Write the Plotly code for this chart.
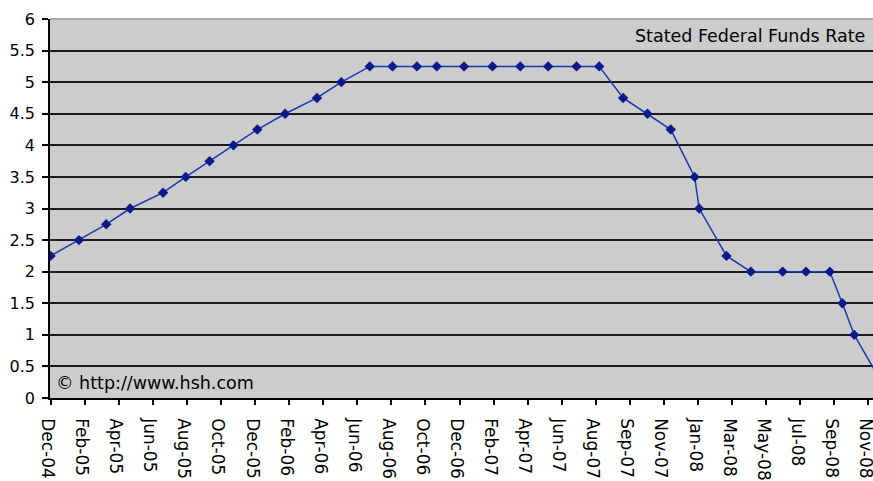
import plotly.graph_objects as go
import pandas as pd

# FOMC decision dates and stated federal funds target rate (%)
dates = [
    "2004-12-14", "2005-02-02", "2005-03-22", "2005-05-03", "2005-06-30",
    "2005-08-09", "2005-09-20", "2005-11-01", "2005-12-13", "2006-01-31",
    "2006-03-28", "2006-05-10", "2006-06-29", "2006-08-08", "2006-09-20",
    "2006-10-25", "2006-12-12", "2007-01-31", "2007-03-21", "2007-05-09",
    "2007-06-28", "2007-08-07", "2007-09-18", "2007-10-31", "2007-12-11",
    "2008-01-22", "2008-01-30", "2008-03-18", "2008-04-30", "2008-06-25",
    "2008-08-05", "2008-09-16", "2008-10-08", "2008-10-29", "2008-12-16",
]
rates = [
    2.25, 2.5, 2.75, 3.0, 3.25,
    3.5, 3.75, 4.0, 4.25, 4.5,
    4.75, 5.0, 5.25, 5.25, 5.25,
    5.25, 5.25, 5.25, 5.25, 5.25,
    5.25, 5.25, 4.75, 4.5, 4.25,
    3.5, 3.0, 2.25, 2.0, 2.0,
    2.0, 2.0, 1.5, 1.0, 0.25,
]

tick_labels = [
    "Dec-04", "Feb-05", "Apr-05", "Jun-05", "Aug-05", "Oct-05", "Dec-05",
    "Feb-06", "Apr-06", "Jun-06", "Aug-06", "Oct-06", "Dec-06", "Feb-07",
    "Apr-07", "Jun-07", "Aug-07", "Sep-07", "Nov-07", "Jan-08", "Mar-08",
    "May-08", "Jul-08", "Sep-08", "Nov-08",
]
# Excel date axis: major unit of 60 days starting at the first data date
tick_dates = pd.date_range("2004-12-14", periods=len(tick_labels), freq="60D")

y_ticks = [0, 0.5, 1, 1.5, 2, 2.5, 3, 3.5, 4, 4.5, 5, 5.5, 6]
y_tick_text = ["0", "0.5", "1", "1.5", "2", "2.5", "3", "3.5", "4", "4.5", "5", "5.5", "6"]

FONT = "DejaVu Sans"

fig = go.Figure()
fig.add_trace(go.Scatter(
    x=pd.to_datetime(dates), y=rates,
    mode="lines+markers",
    line=dict(color="#1A38B0", width=1.5),
    marker=dict(symbol="diamond", size=8, color="#0A1A8C"),
    showlegend=False, hoverinfo="x+y",
))

fig.update_layout(
    width=873, height=481,
    margin=dict(l=50, r=0, t=19, b=83, autoexpand=False),
    paper_bgcolor="white",
    plot_bgcolor="#CCCCCC",
    font=dict(family=FONT, size=17, color="black"),
    xaxis=dict(
        type="date",
        range=["2004-12-13", "2008-12-01"],
        tickmode="array",
        tickvals=list(tick_dates),
        ticktext=tick_labels,
        tickangle=90,
        automargin=False,
        ticklabeloverflow="allow",
        ticklabelstandoff=10,
        ticklabelshift=-3,
        ticks="outside", ticklen=5, tickwidth=1.5, tickcolor="black",
        showline=True, linecolor="black", linewidth=1.5,
        showgrid=False, zeroline=False,
        tickfont=dict(family=FONT, size=17, color="black"),
    ),
    yaxis=dict(
        range=[0, 6],
        tickmode="array",
        tickvals=y_ticks,
        ticktext=y_tick_text,
        automargin=False,
        ticklabelstandoff=4,
        ticks="outside", ticklen=6, tickwidth=1.5, tickcolor="black",
        showline=True, linecolor="black", linewidth=1.5,
        showgrid=True, gridcolor="#1a1a1a", gridwidth=2,
        zeroline=False,
        tickfont=dict(family=FONT, size=16, color="black"),
    ),
    shapes=[dict(type="line", xref="paper", yref="paper", x0=0, x1=1, y0=1, y1=1,
                 line=dict(color="#A8A8A8", width=2), layer="above")],
    annotations=[
        dict(text="Stated Federal Funds Rate", xref="paper", yref="paper",
             x=1, y=0.955, xanchor="right", yanchor="middle", xshift=-6,
             showarrow=False, font=dict(family=FONT, size=17.5, color="black")),
        dict(text="\u00a9 http://www.hsh.com", xref="paper", yref="paper",
             x=0, y=0.04, xanchor="left", yanchor="middle", xshift=4,
             showarrow=False, font=dict(family=FONT, size=17.5, color="black")),
    ],
)

fig.write_html("out.html")
